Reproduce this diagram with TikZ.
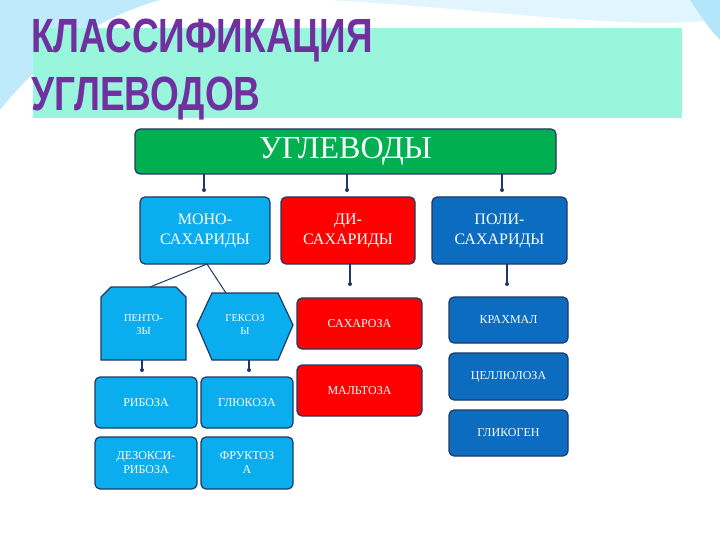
\documentclass[tikz,border=0pt]{standalone}
\usepackage{fontspec}
\setmainfont{Liberation Serif}
\newfontfamily\titlefont{Liberation Sans}
\begin{document}
\begin{tikzpicture}[x=1pt,y=-1pt,
  box/.style={draw=navy,line width=1.2pt,rounded corners=5pt,text=white,align=center,inner sep=0pt,font=\fontsize{12}{14}\selectfont},
  lev/.style={box,font=\fontsize{16}{20}\selectfont},
  link/.style={draw=navy,line width=1.5pt},
  dot/.style={circle,fill=navy,inner sep=0pt,minimum size=4pt}]
\definecolor{navy}{HTML}{1F3864}
\definecolor{mint}{HTML}{99F5DC}
\definecolor{sky}{HTML}{0AAEEE}
\definecolor{pblue}{HTML}{0B6CC0}
\definecolor{gr}{HTML}{00B050}
\definecolor{rd}{HTML}{FF0000}
\definecolor{purp}{HTML}{7030A0}
\useasboundingbox (0,0) rectangle (720,540);
\fill[white] (0,0) rectangle (720,540);
% background swooshes
\fill[cyan!25] (0,0) -- (160,0) .. controls (90,20) and (40,60) .. (0,110) -- cycle;
\fill[cyan!12] (330,0) .. controls (500,10) and (620,30) .. (720,20) -- (720,0) -- cycle;
\fill[cyan!30] (690,0) .. controls (700,15) and (710,30) .. (720,40) -- (720,0) -- cycle;
\fill[mint] (33,28) rectangle (682,118);
\node[anchor=north west,text=purp,font=\titlefont\bfseries\fontsize{48}{58}\selectfont,align=left,inner sep=0pt,xscale=0.77] (title) at (31,19) {КЛАССИФИКАЦИЯ\\УГЛЕВОДОВ};
% top
\node[lev,fill=gr,minimum width=421pt,minimum height=45pt,font=\fontsize{32}{36}\selectfont] (top) at (345.5,151.5) {\raisebox{-3pt}{УГЛЕВОДЫ}};
\node[lev,fill=sky,minimum width=130pt,minimum height=67pt] (mono) at (205,230.5) {МОНО-\\САХАРИДЫ};
\node[lev,fill=rd,minimum width=134pt,minimum height=67pt] (di) at (348,230.5) {ДИ-\\САХАРИДЫ};
\node[lev,fill=pblue,minimum width=135pt,minimum height=67pt] (poly) at (499.5,230.5) {ПОЛИ-\\САХАРИДЫ};
\foreach \x/\n in {204/mono,347/di,502/poly}{
  \coordinate (a\n) at (\x,174); \coordinate (b\n) at (\x,190);
  \draw[link] (a\n) -- (b\n); \node[dot] at (b\n) {};}
% pentoses
\draw[navy,line width=1.2pt,fill=sky] (101,360) -- (101,297) -- (111,287) -- (176,287) -- (186,297) -- (186,360) -- cycle;
\node[text=white,align=center,font=\fontsize{10.5}{13}\selectfont] (pent) at (143.5,325) {ПЕНТО-\\ЗЫ};
\draw[navy,line width=1.2pt,fill=sky] (197,325) -- (212,293) -- (278,293) -- (293,325) -- (278,360) -- (212,360) -- cycle;
\node[text=white,align=center,font=\fontsize{10.5}{13}\selectfont] (hex) at (245,325) {ГЕКСОЗ\\Ы};
\coordinate (mb) at (207,264);
\coordinate (pt) at (150,287); \coordinate (ht) at (226,293);
\draw[link,line width=1pt] (mb) -- (pt);
\draw[link,line width=1pt] (mb) -- (ht);
\coordinate (pb) at (142,360); \coordinate (pe) at (142,370);
\coordinate (hb) at (249,360); \coordinate (he) at (249,370);
\draw[link] (pb) -- (pe); \node[dot] at (pe) {};
\draw[link] (hb) -- (he); \node[dot] at (he) {};
\node[box,fill=sky,minimum width=102pt,minimum height=51pt] (rib) at (146,402.5) {РИБОЗА};
\node[box,fill=sky,minimum width=92pt,minimum height=51pt] (glu) at (247,402.5) {ГЛЮКОЗА};
\node[box,fill=sky,minimum width=102pt,minimum height=52pt] (deox) at (146,463) {ДЕЗОКСИ-\\РИБОЗА};
\node[box,fill=sky,minimum width=92pt,minimum height=52pt] (fru) at (247,463) {ФРУКТОЗ\\А};
% di
\coordinate (dd1) at (350,264); \coordinate (dd2) at (350,284);
\draw[link] (dd1) -- (dd2); \node[dot] at (dd2) {};
\node[box,fill=rd,minimum width=125pt,minimum height=51pt] (sah) at (359.5,323.5) {САХАРОЗА};
\node[box,fill=rd,minimum width=125pt,minimum height=51pt] (mal) at (359.5,390.5) {МАЛЬТОЗА};
% poly
\coordinate (pp1) at (507,264); \coordinate (pp2) at (507,284);
\draw[link] (pp1) -- (pp2); \node[dot] at (pp2) {};
\node[box,fill=pblue,minimum width=119pt,minimum height=46pt] (kra) at (508.5,320) {КРАХМАЛ};
\node[box,fill=pblue,minimum width=119pt,minimum height=47pt] (cel) at (508.5,376.5) {ЦЕЛЛЮЛОЗА};
\node[box,fill=pblue,minimum width=119pt,minimum height=46pt] (gli) at (508.5,433) {ГЛИКОГЕН};
\end{tikzpicture}
\end{document}
